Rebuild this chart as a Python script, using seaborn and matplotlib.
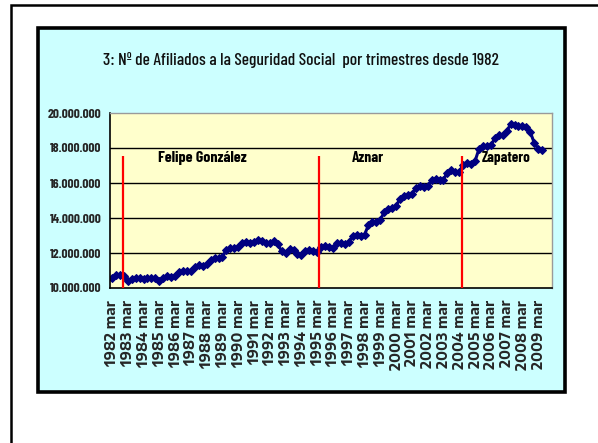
import matplotlib
matplotlib.use("Agg")
import matplotlib.pyplot as plt
import matplotlib.patches as mpatches
from matplotlib import font_manager
import seaborn as sns
import pandas as pd
import numpy as np

# ---------------- data ----------------
years = list(range(1982, 2010))
tick_labels = [f"{y} mar" for y in years]

afiliados_millones = [
    10.60, 10.72, 10.75, 10.68,   # 1982
    10.40, 10.52, 10.58, 10.55,   # 1983
    10.52, 10.58, 10.60, 10.55,   # 1984
    10.40, 10.58, 10.66, 10.65,   # 1985
    10.68, 10.90, 10.96, 10.95,   # 1986
    10.98, 11.22, 11.30, 11.28,   # 1987
    11.35, 11.62, 11.72, 11.70,   # 1988
    11.78, 12.20, 12.30, 12.28,   # 1989
    12.32, 12.55, 12.62, 12.60,   # 1990
    12.62, 12.75, 12.68, 12.60,   # 1991
    12.55, 12.68, 12.50, 12.10,   # 1992
    12.00, 12.22, 12.20, 11.95,   # 1993
    11.88, 12.10, 12.15, 12.10,   # 1994
    12.08, 12.35, 12.40, 12.35,   # 1995
    12.30, 12.55, 12.60, 12.50,   # 1996
    12.65, 12.95, 13.05, 13.00,   # 1997
    13.05, 13.60, 13.75, 13.78,   # 1998
    13.90, 14.35, 14.50, 14.55,   # 1999
    14.70, 15.10, 15.25, 15.30,   # 2000
    15.35, 15.70, 15.85, 15.80,   # 2001
    15.85, 16.15, 16.25, 16.15,   # 2002
    16.20, 16.60, 16.75, 16.65,   # 2003
    16.65, 17.05, 17.15, 17.10,   # 2004
    17.25, 17.95, 18.10, 18.10,   # 2005
    18.15, 18.55, 18.75, 18.75,   # 2006
    18.95, 19.35, 19.30, 19.25,   # 2007
    19.25, 19.20, 18.90, 18.30,   # 2008
    17.95, 17.90,                 # 2009
]
gobiernos = ["Felipe González", "Aznar", "Zapatero"]
cambio_gobierno_trimestre = [2.72, 52.4, 88.8]   # category position of red lines

n_categories = len(years) * 4

# ---------------- fonts ----------------
installed = {f.name for f in font_manager.fontManager.ttflist}
narrow = next((f for f in ["Barlow Condensed", "Fira Sans Extra Condensed", "Liberation Sans Narrow",
                           "Roboto Condensed", "Fira Sans Condensed"]
               if f in installed), "Liberation Sans")
wide = next((f for f in ["Encode Sans Expanded", "DejaVu Sans"] if f in installed), "DejaVu Sans")
NARROW = [narrow, "DejaVu Sans"]
WIDE = [wide, "DejaVu Sans"]

sns.set_style("white")
plt.rcParams["font.family"] = NARROW

W, H = 598, 443
fig = plt.figure(figsize=(W / 100, H / 100), dpi=100)
fig.patch.set_facecolor("white")

def px_rect(x0, y0, x1, y1, **kw):
    return mpatches.Rectangle((x0 / W, 1 - y1 / H), (x1 - x0) / W, (y1 - y0) / H,
                              transform=fig.transFigure, **kw)

# outer frame (right/bottom edges beyond the image)
fig.patches.append(px_rect(10.5, 4.5, 620, 470, facecolor="white", edgecolor="black",
                           lw=1.8, zorder=-10))
# inner cyan chart panel
fig.patches.append(px_rect(37.5, 27.5, 564.5, 392, facecolor="#CCFFFF", edgecolor="black",
                           lw=2.6, zorder=-9))

# title
title = fig.text(301 / W, 1 - 60 / H,
                 "3: Nº de Afiliados a la Seguridad Social  por trimestres desde 1982",
                 ha="center", va="center", fontsize=11, fontweight="medium",
                 color="#111111", family=NARROW)

# plot area
ax = fig.add_axes([110 / W, 1 - 288 / H, 442 / W, 175 / H])
ax.set_facecolor("#FFFFCC")

df = pd.DataFrame({"t": np.arange(len(afiliados_millones)),
                   "afiliados": np.array(afiliados_millones) * 1e6})
sns.lineplot(data=df, x="t", y="afiliados", ax=ax, color="#000080", lw=2.2,
             marker="D", markersize=4.5, markeredgecolor="#000080", markerfacecolor="#000080")

ax.set_xlim(-0.5, n_categories - 0.5)
ax.set_ylim(10e6, 20e6)

yt = np.arange(10e6, 20e6 + 1, 2e6)
ax.set_yticks(yt)
ax.set_yticklabels([f"{v:,.0f}".replace(",", ".") for v in yt], fontsize=9.5,
                   fontweight="bold", family=NARROW)
for v in yt[1:-1]:
    ax.axhline(v, color="black", lw=1.0, zorder=0.5)

ax.vlines(cambio_gobierno_trimestre, 10e6, 17.53e6, color="#FF0000", lw=1.6, zorder=3)

label_x = [23.0, 64.8, 99.8]
gov_texts = []
for name, x in zip(gobiernos, label_x):
    gov_texts.append(ax.text(x, 17.45e6, name, ha="center", va="center", fontsize=10.5,
                             fontweight="bold", color="black", zorder=4, family=NARROW))

ax.set_xticks(np.arange(0, n_categories, 4))
ax.set_xticklabels(tick_labels, rotation=90, fontsize=9.3, fontweight="bold", family=WIDE)
ax.set_xticks(np.arange(-0.5, n_categories, 1), minor=True)
ax.tick_params(axis="x", which="major", length=0, pad=8.5)
ax.tick_params(axis="x", which="minor", length=3, width=0.8, color="black", direction="out")
ax.tick_params(axis="y", which="major", length=4, width=1, color="black", direction="out", pad=2)

ax.set_xlabel("")
ax.set_ylabel("")
for s in ["left", "bottom"]:
    ax.spines[s].set_color("black")
    ax.spines[s].set_linewidth(1.2)
for s in ["top", "right"]:
    ax.spines[s].set_color("#9a9a9a")
    ax.spines[s].set_linewidth(1.0)

# ---- fit text sizes to the widths measured on the reference ----
fig.canvas.draw()
r = fig.canvas.get_renderer()

def scaled(artist, target, use_height=False):
    bb = artist.get_window_extent(r)
    cur = bb.height if use_height else bb.width
    return artist.get_fontsize() * target / max(cur, 1)

title.set_fontsize(scaled(title, 395))
ylab = ax.get_yticklabels()[-1]
ax.tick_params(axis="y", labelsize=scaled(ylab, 54))
xlab = ax.get_xticklabels()[0]
ax.tick_params(axis="x", which="major", labelsize=scaled(xlab, 66, use_height=True))
for t, target in zip(gov_texts, [89, 32, 49]):
    t.set_fontsize(scaled(t, target))

fig.savefig("out.png", dpi=100)
